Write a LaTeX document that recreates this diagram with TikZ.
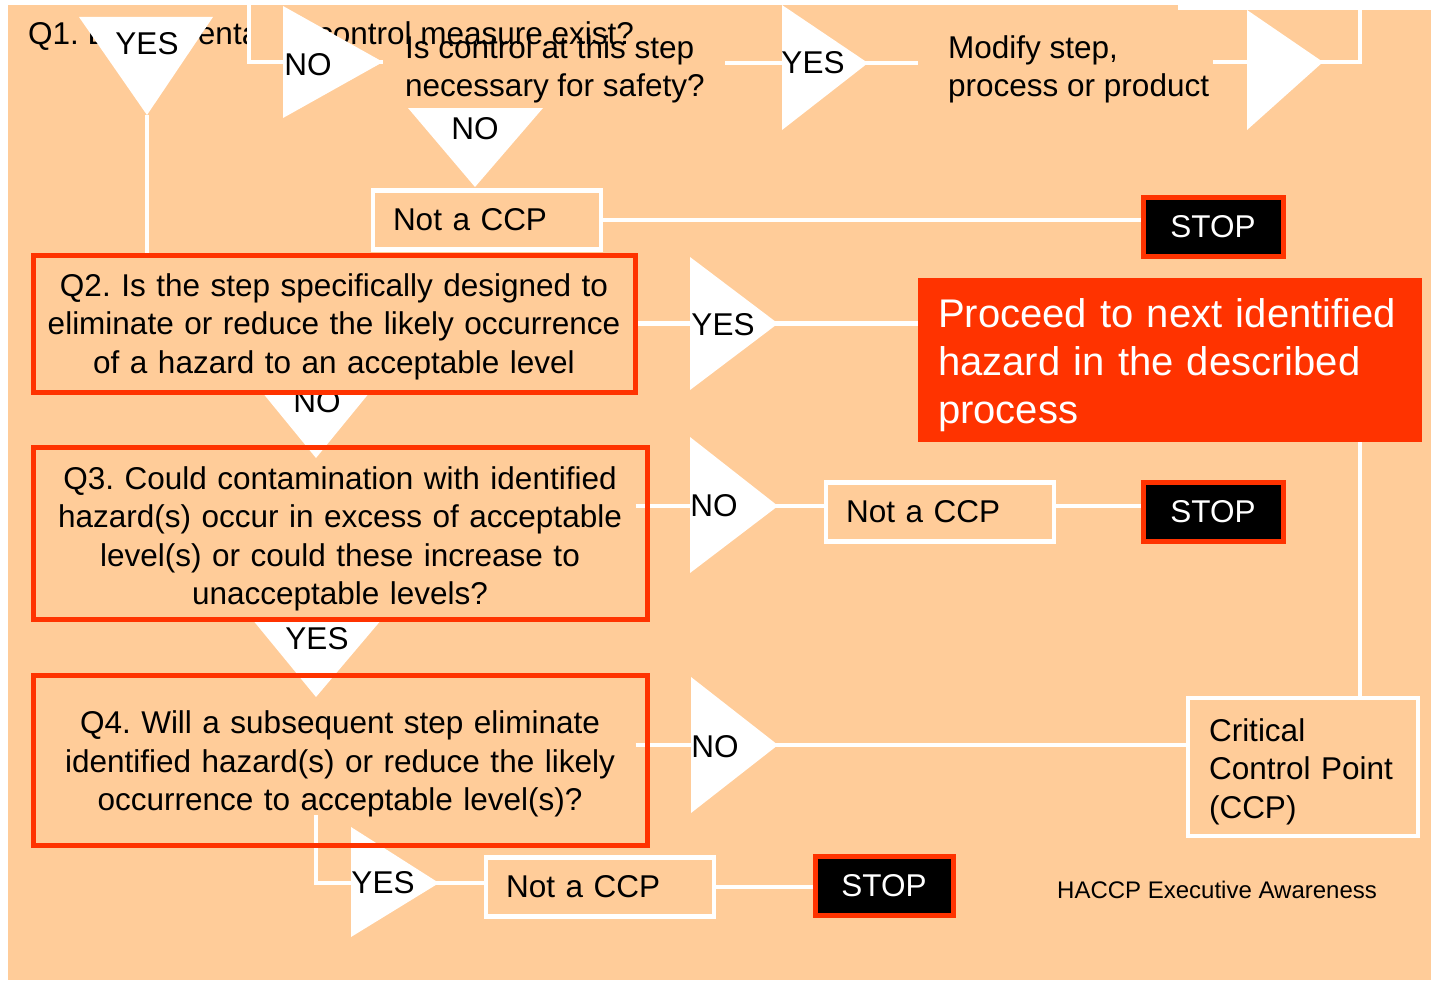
\documentclass[tikz,border=0pt]{standalone}
\usepackage{fontspec}
\setmainfont{Liberation Sans}
\usetikzlibrary{positioning}
\frenchspacing

\definecolor{peach}{HTML}{FFCC99}
\definecolor{haccpred}{HTML}{FF3300}

\pgfdeclarelayer{back}
\pgfsetlayers{back,main}

\tikzset{
  link/.style={draw=white, line width=4.5pt},
  tri/.style={fill=white},
  lbl/.style={inner sep=0pt, font=\fontsize{31.5}{38.5}\selectfont},
  qbox/.style={draw=haccpred, line width=5pt, align=center, inner sep=0pt,
    font=\fontsize{31.5}{38.5}\selectfont},
  ccpbox/.style={draw=white, line width=4.5pt, align=left, inner xsep=20pt,
    text width=188pt, font=\fontsize{31.5}{38.5}\selectfont},
  stopbox/.style={fill=black, draw=haccpred, line width=5pt, text=white,
    minimum width=140pt, minimum height=59pt, font=\fontsize{31.5}{38.5}\selectfont},
}

\begin{document}
\begin{tikzpicture}[x=1pt, y=-1pt]
\useasboundingbox (0,0) rectangle (1431,982);

% question boxes
\node[qbox, text width=602pt, minimum height=137pt, text height=29pt] (q2) at (334,323.5)
  {Q2. Is the step specifically designed to\\eliminate or reduce the likely occurrence\\of a hazard to an acceptable level};
\node[qbox, text width=614pt, minimum height=172pt, text height=34pt] (q3) at (340,533.5)
  {Q3. Could contamination with identified\\hazard(s) occur in excess of acceptable\\level(s) or could these increase to\\unacceptable levels?};
\node[qbox, text width=614pt, minimum height=170pt, text height=31pt] (q4) at (340,760)
  {Q4. Will a subsequent step eliminate\\identified hazard(s) or reduce the likely\\occurrence to acceptable level(s)?};

% outcomes
\node[ccpbox, minimum height=59pt] (nc1) at (487,220) {Not a CCP};
\node[ccpbox, minimum height=59pt] (nc2) at (940,512) {Not a CCP};
\node[ccpbox, minimum height=59pt] (nc3) at (600,887) {Not a CCP};
\node[stopbox] (stop1) at (1213,227) {STOP};
\node[stopbox] (stop2) at (1213,511.5) {STOP};
\node[stopbox, minimum width=138pt] (stop3) at (884,885.5) {STOP};
\node[fill=haccpred, text=white, align=left, text width=464pt, inner xsep=20pt,
  minimum height=164pt, text height=41pt, font=\fontsize{40}{48}\selectfont] (proceed) at (1170,359.5)
  {Proceed to next identified\\hazard in the described\\process};
\node[ccpbox, inner xsep=21pt, minimum height=138pt, text height=32pt] (ccp) at (1303,767)
  {Critical\\Control Point\\(CCP)};

\begin{pgfonlayer}{back}
\fill[peach] (8,5) rectangle (1431,980);
\fill[white] (1178,0) rectangle (1431,10);

\node[lbl, anchor=base west] (q1) at (28,45)
  {Q1. Do preventative control measure exist?};
\node[lbl, anchor=west, align=left] (ctrl) at (405,69.5)
  {Is control at this step\\necessary for safety?};
\node[lbl, anchor=west, align=left] (modify) at (948,69.5)
  {Modify step,\\process or product};
\node[anchor=base west, inner sep=0pt, font=\fontsize{24}{28}\selectfont] (footer)
  at (1057,898) {HACCP Executive Awareness};

\fill[peach] (250,5) rectangle (292,60);

% arrow tips of the triangles
\coordinate (q1yes) at (147,115);
\coordinate (q1no) at (383,62);
\coordinate (ctrlno) at (475,187);
\coordinate (ctrlyes) at (868,63);
\coordinate (modarr) at (1323,62);
\coordinate (q2yes) at (778,323.5);
\coordinate (q2no) at (316,458);
\coordinate (q3yes) at (316,697);
\coordinate (q3no) at (778,506);
\coordinate (q4no) at (778,745);
\coordinate (q4yes) at (439,883);
\coordinate (q1top) at (249,5);
\coordinate (ctrlout) at (725,63);
\coordinate (modin) at (918,63);
\coordinate (modout) at (1213,62);
\coordinate (topend) at (1360,8);
\coordinate (ccpx) at (1360,0);
\coordinate (q4out) at (316,815);

% connectors
\draw[link] (q1yes) -- (q1yes |- q2.north);
\draw[link] (q1top) |- (q1no);
\draw[link] (ctrlout) -- (modin);
\draw[link] (modout) -| (topend);
\draw[link] (nc1.east) -- (nc1.east -| stop1.west);
\draw[link] (q2.east) -- (q2.east -| proceed.west);
\draw[link] (proceed.south -| ccpx) -- (ccp.north -| ccpx);
\draw[link] ([xshift=-14pt]q3no -| q3.east) -- (q3no -| nc2.west);
\draw[link] (q3no -| nc2.east) -- (q3no -| stop2.west);
\draw[link] ([xshift=-14pt]q4no -| q4.east) -- (q4no -| ccp.west);
\draw[link] (q4out) |- (q4yes) -- (q4yes -| nc3.west);
\draw[link] (nc3.east) -- (nc3.east -| stop3.west);

% triangles
\fill[tri] (79,17) -- (213,17) -- (q1yes) -- cycle;
\fill[tri] (283,6) -- (283,118) -- (q1no) -- cycle;
\fill[tri] (408,108) -- (543,108) -- (ctrlno) -- cycle;
\fill[tri] (782,5) -- (782,130) -- (ctrlyes) -- cycle;
\fill[tri] (1247,10) -- (1247,130) -- (modarr) -- cycle;
\fill[tri] (690,257) -- (690,390) -- (q2yes) -- cycle;
\fill[tri] (262,392) -- (370,392) -- (q2no) -- cycle;
\fill[tri] (252,619) -- (382,619) -- (q3yes) -- cycle;
\fill[tri] (690,437) -- (690,573) -- (q3no) -- cycle;
\fill[tri] (691,677) -- (691,813) -- (q4no) -- cycle;
\fill[tri] (351,827) -- (351,937) -- (q4yes) -- cycle;

\node[lbl] (q1yeslbl) at (147,44) {YES};
\node[lbl] (q1nolbl) at (308,65) {NO};
\node[lbl] (ctrlnolbl) at (475,129) {NO};
\node[lbl] (ctrlyeslbl) at (813,63) {YES};
\node[lbl] (q2yeslbl) at (723,324.5) {YES};
\node[lbl] (q2nolbl) at (317,402) {NO};
\node[lbl] (q3yeslbl) at (317,638.5) {YES};
\node[lbl] (q3nolbl) at (714,506) {NO};
\node[lbl] (q4nolbl) at (715,746.5) {NO};
\node[lbl] (q4yeslbl) at (383,882.5) {YES};
\end{pgfonlayer}
\end{tikzpicture}
\end{document}
